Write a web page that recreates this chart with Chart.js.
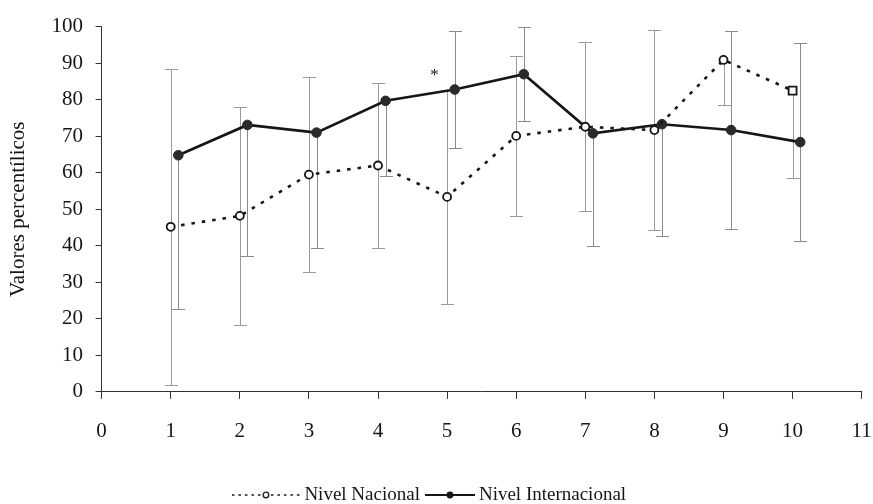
<!DOCTYPE html>
<html>
<head>
<meta charset="utf-8">
<script src="https://cdn.jsdelivr.net/npm/chart.js@4.4.1/dist/chart.umd.min.js"></script>
<style>
  html, body { margin: 0; padding: 0; background: #fff; }
  #wrap { width: 873px; height: 504px; }
</style>
</head>
<body>
<div id="wrap"><canvas id="chart" width="873" height="504"></canvas></div>
<script>
// Percentile means per test, with their standard deviations
const categories = [1, 2, 3, 4, 5, 6, 7, 8, 9, 10];
const nacional = [45.2, 48.2, 59.5, 62.0, 53.4, 70.1, 72.6, 71.7, 90.9, 82.5];
const nacionalError = [43.3, 29.9, 26.8, 22.5, 29.2, 21.8, 23.1, 27.5, 12.4, 23.8];
const internacional = [64.8, 73.1, 71.0, 79.7, 82.8, 87.0, 70.8, 73.3, 71.7, 68.4];
const internacionalError = [42.0, 35.9, 31.7, 20.6, 16.0, 12.8, 30.8, 30.6, 27.0, 27.0];
const xTicks = [0, 1, 2, 3, 4, 5, 6, 7, 8, 9, 10, 11];
const yTicks = [0, 10, 20, 30, 40, 50, 60, 70, 80, 90, 100];
const seriesNames = ['Nivel Nacional', 'Nivel Internacional'];
const yTitle = 'Valores percentílicos';
const significant = [5];   // tests marked with an asterisk

const SERIF = "'Liberation Serif', 'Times New Roman', serif";
const INK = '#161616';
const INTL_SHIFT = 0.11;   // second series sits just right of each tick

// Small line + marker samples for the legend
function legendSample(dotted) {
  const c = document.createElement('canvas');
  const w = dotted ? 78 : 59, h = 14;
  c.width = w; c.height = h;
  const g = c.getContext('2d');
  const x0 = dotted ? 0 : 9, x1 = dotted ? 68 : 59, cx = (x0 + x1) / 2, cy = h / 2;
  g.strokeStyle = INK;
  g.lineWidth = dotted ? 1.6 : 2;
  if (dotted) g.setLineDash([2.5, 4]);
  g.beginPath(); g.moveTo(x0, cy); g.lineTo(x1, cy); g.stroke();
  g.setLineDash([]);
  g.beginPath(); g.arc(cx, cy, dotted ? 2.8 : 3.4, 0, Math.PI * 2);
  if (dotted) {
    g.fillStyle = '#fff'; g.fill(); g.lineWidth = 1.3; g.stroke();
  } else {
    g.fillStyle = INK; g.fill();
  }
  return c;
}
const samples = [legendSample(true), legendSample(false)];

// Vertical error bars with caps; a half that runs past the axis maximum is left out
const errorBars = {
  id: 'errorBars',
  beforeDatasetsDraw(chart) {
    const { ctx, scales: { y } } = chart;
    chart.data.datasets.forEach((ds, di) => {
      const meta = chart.getDatasetMeta(di);
      ctx.save();
      ctx.strokeStyle = ds.errorColor;
      ctx.lineWidth = 1;
      meta.data.forEach((pt, i) => {
        const v = ds.data[i].y, e = ds.errors[i];
        const x = Math.round(pt.x) + 0.5;
        [v + e, v - e].forEach(end => {
          if (end > y.max || end < y.min) return;
          const py = Math.round(y.getPixelForValue(end)) + 0.5;
          ctx.beginPath();
          ctx.moveTo(x, pt.y); ctx.lineTo(x, py);
          ctx.moveTo(x - 6.5, py); ctx.lineTo(x + 6.5, py);
          ctx.stroke();
        });
      });
      ctx.restore();
    });
  }
};

// Significance asterisk above the flagged tests
const asterisks = {
  id: 'asterisks',
  afterDatasetsDraw(chart) {
    const { ctx, scales: { x, y } } = chart;
    ctx.save();
    ctx.fillStyle = INK;
    ctx.font = '17px ' + SERIF;
    ctx.textAlign = 'center';
    ctx.textBaseline = 'alphabetic';
    significant.forEach(cat => {
      const i = categories.indexOf(cat);
      const px = x.getPixelForValue(cat) - 12.5;
      const py = y.getPixelForValue(internacional[i]) - 17.5 + 8;
      ctx.fillText('*', px, py);
    });
    ctx.restore();
  }
};

const tickFont = { family: SERIF, size: 21 };

new Chart(document.getElementById('chart'), {
  type: 'line',
  data: {
    datasets: [
      {
        label: seriesNames[0],
        data: categories.map((c, i) => ({ x: c, y: nacional[i] })),
        errors: nacionalError,
        errorColor: '#9a9a9a',
        borderColor: INK,
        borderWidth: 2.6,
        borderDash: [3.5, 7],
        pointStyle: categories.map((c, i) => i === categories.length - 1 ? 'rect' : 'circle'),
        pointRadius: categories.map((c, i) => i === categories.length - 1 ? 5.6 : 4),
        pointBackgroundColor: '#fff',
        pointBorderColor: INK,
        pointBorderWidth: 1.8,
        tension: 0
      },
      {
        label: seriesNames[1],
        data: categories.map((c, i) => ({ x: c + INTL_SHIFT, y: internacional[i] })),
        errors: internacionalError,
        errorColor: '#8a8a8a',
        borderColor: INK,
        borderWidth: 2.6,
        pointStyle: 'circle',
        pointRadius: 4.8,
        pointBackgroundColor: '#2a2a2a',
        pointBorderColor: '#2a2a2a',
        pointBorderWidth: 1,
        tension: 0
      }
    ]
  },
  options: {
    responsive: false,
    animation: false,
    devicePixelRatio: 1,
    layout: { padding: { top: 26.7, right: 0, left: 0, bottom: -10.5 } },
    plugins: {
      tooltip: { enabled: false },
      legend: {
        position: 'bottom',
        labels: {
          usePointStyle: true,
          pointStyleWidth: 48,
          padding: 1.5,
          color: INK,
          font: { family: SERIF, size: 19 },
          generateLabels: chart => chart.data.datasets.map((ds, i) => ({
            text: ds.label,
            pointStyle: samples[i],
            fillStyle: INK,
            strokeStyle: INK,
            fontColor: INK,
            lineWidth: 0,
            hidden: false,
            datasetIndex: i
          }))
        }
      }
    },
    scales: {
      x: {
        type: 'linear',
        min: xTicks[0],
        max: xTicks[xTicks.length - 1],
        afterBuildTicks: s => { s.ticks = xTicks.map(v => ({ value: v })); },
        afterFit: s => { s.height = 92.1; s.paddingLeft = 0; s.paddingRight = 11.3; },
        grid: { drawOnChartArea: false, drawTicks: true, tickLength: 7, color: '#333' },
        border: { display: true, color: '#333', width: 1 },
        ticks: { color: INK, font: tickFont, padding: 19.8, maxRotation: 0, autoSkip: false }
      },
      y: {
        min: yTicks[0],
        max: yTicks[yTicks.length - 1],
        afterBuildTicks: s => { s.ticks = yTicks.map(v => ({ value: v })); },
        afterFit: s => { s.width = 101.6; },
        grid: { drawOnChartArea: false, drawTicks: true, tickLength: 6, color: '#333' },
        border: { display: true, color: '#333', width: 1 },
        ticks: { color: INK, font: tickFont, padding: 12.6 },
        title: {
          display: true,
          text: yTitle,
          color: INK,
          font: { family: SERIF, size: 21 },
          padding: { top: 5.5, bottom: 0 }
        }
      }
    }
  },
  plugins: [errorBars, asterisks]
});
</script>
</body>
</html>
